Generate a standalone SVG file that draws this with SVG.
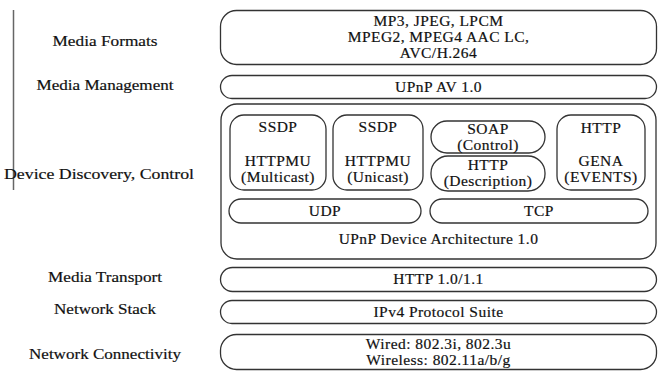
<svg xmlns="http://www.w3.org/2000/svg" width="659" height="371" viewBox="0 0 659 371">
  <style>
    .box { fill: #ffffff; stroke: #333333; stroke-width: 1.3; }
    text { font-family: 'Liberation Serif', 'DejaVu Serif', serif; font-size: 15.5px; fill: #111111; text-anchor: middle; letter-spacing: 0.45px; stroke: #111111; stroke-width: 0.2; }
    #labels text { letter-spacing: 0; }
  </style>
  <rect x="0" y="0" width="659" height="371" fill="#ffffff"/>

  <!-- side rule -->
  <line x1="13.5" y1="10" x2="13.5" y2="190" stroke="#666666" stroke-width="1.5"/>

  <!-- layer labels -->
  <g id="labels">
    <text x="105" y="46" textLength="105" lengthAdjust="spacingAndGlyphs">Media Formats</text>
    <text x="105" y="90" textLength="137" lengthAdjust="spacingAndGlyphs">Media Management</text>
    <text x="99" y="179" textLength="190" lengthAdjust="spacingAndGlyphs">Device Discovery, Control</text>
    <text x="105" y="282" textLength="114" lengthAdjust="spacingAndGlyphs">Media Transport</text>
    <text x="105" y="314" textLength="102" lengthAdjust="spacingAndGlyphs">Network Stack</text>
    <text x="105" y="359" textLength="152" lengthAdjust="spacingAndGlyphs">Network Connectivity</text>
  </g>

  <g id="media-formats">
    <rect class="box" x="220.5" y="10.5" width="436" height="54" rx="16"/>
    <text x="438.5" y="25.5">MP3, JPEG, LPCM</text>
    <text x="438.5" y="41.5">MPEG2, MPEG4 AAC LC,</text>
    <text x="438.5" y="57.5">AVC/H.264</text>
  </g>

  <g id="upnp-av">
    <rect class="box" x="220.5" y="75.5" width="436" height="23" rx="11.5"/>
    <text x="438.5" y="92">UPnP AV 1.0</text>
  </g>

  <g id="upnp-device-architecture">
    <rect class="box" x="221" y="104" width="435" height="155" rx="16"/>
    <text x="438.5" y="243.5">UPnP Device Architecture 1.0</text>

    <g id="ssdp-multicast">
      <rect class="box" x="230" y="115" width="96" height="75" rx="14"/>
      <text x="278" y="132">SSDP</text>
      <text x="278" y="166">HTTPMU</text>
      <text x="278" y="182">(Multicast)</text>
    </g>
    <g id="ssdp-unicast">
      <rect class="box" x="333" y="115" width="90" height="75" rx="14"/>
      <text x="378" y="132">SSDP</text>
      <text x="378" y="166">HTTPMU</text>
      <text x="378" y="182">(Unicast)</text>
    </g>
    <g id="soap">
      <rect class="box" x="431" y="121" width="114" height="32" rx="16"/>
      <text x="488" y="133.5">SOAP</text>
      <text x="488" y="149.5">(Control)</text>
    </g>
    <g id="http-description">
      <rect class="box" x="431" y="156" width="114" height="35" rx="17"/>
      <text x="488" y="170">HTTP</text>
      <text x="488" y="186">(Description)</text>
    </g>
    <g id="gena">
      <rect class="box" x="557" y="115" width="88" height="75" rx="14"/>
      <text x="601" y="133">HTTP</text>
      <text x="601" y="166">GENA</text>
      <text x="601" y="182">(EVENTS)</text>
    </g>
    <g id="udp">
      <rect class="box" x="229" y="199" width="192" height="24" rx="12"/>
      <text x="325" y="216">UDP</text>
    </g>
    <g id="tcp">
      <rect class="box" x="430" y="199" width="218" height="24" rx="12"/>
      <text x="539" y="216">TCP</text>
    </g>
  </g>

  <g id="http-transport">
    <rect class="box" x="220.5" y="267.5" width="436" height="24" rx="12"/>
    <text x="438.5" y="284">HTTP 1.0/1.1</text>
  </g>

  <g id="ipv4">
    <rect class="box" x="220.5" y="300.5" width="436" height="23" rx="11.5"/>
    <text x="438.5" y="317">IPv4 Protocol Suite</text>
  </g>

  <g id="connectivity">
    <rect class="box" x="220.5" y="334.5" width="436" height="35" rx="16"/>
    <text x="438.5" y="349">Wired: 802.3i, 802.3u</text>
    <text x="438.5" y="365">Wireless: 802.11a/b/g</text>
  </g>
</svg>
